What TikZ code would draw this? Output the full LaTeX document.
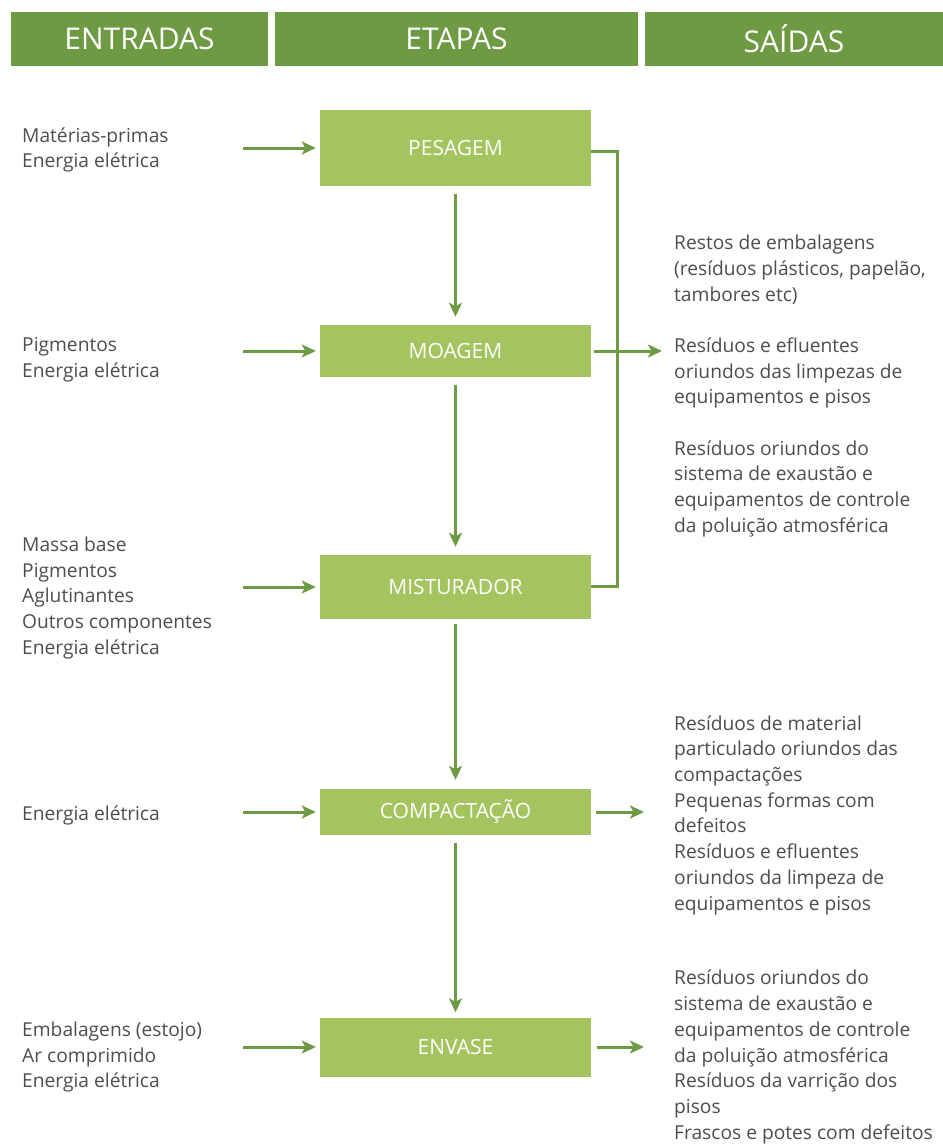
\documentclass[tikz,border=0pt]{standalone}
\usepackage{fontspec}
\setmainfont{Open Sans}
\usetikzlibrary{arrows.meta}
\definecolor{headgreen}{HTML}{6F9A44}
\definecolor{boxgreen}{HTML}{A4C45F}
\definecolor{txtgray}{HTML}{4D4D4D}
\tikzset{
  header/.style={fill=headgreen, text=white, minimum height=54pt, inner sep=0pt,
    font=\fontsize{30pt}{32pt}\selectfont},
  stage/.style={fill=boxgreen, text=white, minimum width=271pt, inner sep=0pt,
    font=\fontsize{21pt}{24pt}\selectfont},
  items/.style={align=left, anchor=west, text=txtgray, inner sep=0pt,
    font=\fontsize{19.2pt}{25.7pt}\selectfont},
  flow/.style={draw=headgreen, line width=3pt, -{Stealth[length=14pt,width=13pt,inset=3.5pt]}},
  bracket/.style={draw=headgreen, line width=3pt}
}
\begin{document}
\begin{tikzpicture}[x=1pt, y=-1pt]
\useasboundingbox (0,0) rectangle (943,1144);
% headers
\node[header, minimum width=257pt] (hin) at (139.5,39) {ENTRADAS};
\node[header, minimum width=363pt] (hstage) at (456.5,39) {ETAPAS};
\node[header, minimum width=298pt] (hout) at (794,39) {SAÍDAS};
% stages
\node[stage, minimum height=76pt] (pes) at (455.5,148) {PESAGEM};
\node[stage, minimum height=52pt] (moa) at (455.5,351) {MOAGEM};
\node[stage, minimum height=64pt] (mis) at (455.5,587) {MISTURADOR};
\node[stage, minimum height=46pt] (com) at (455.5,812) {COMPACTAÇÃO};
\node[stage, minimum height=59pt] (env) at (455.5,1047) {ENVASE};
% inputs
\node[items] (inpes) at (22,150) {Matérias-primas\\Energia elétrica};
\node[items] (inmoa) at (22,360) {Pigmentos\\Energia elétrica};
\node[items] (inmis) at (22,598) {Massa base\\Pigmentos\\Aglutinantes\\Outros componentes\\Energia elétrica};
\node[items] (incom) at (22,815) {Energia elétrica};
\node[items] (inenv) at (22,1057) {Embalagens (estojo)\\Ar comprimido\\Energia elétrica};
\foreach \s in {pes,moa,mis,com,env}
  \coordinate (a\s) at (243,0 |- \s.west);
\foreach \s in {pes,moa,mis,com,env}
  \draw[flow] (a\s) -- ([xshift=-4pt]\s.west);
% flow between stages
\draw[flow] ([yshift=-8pt]pes.south) -- ([yshift=8pt]moa.north);
\draw[flow] ([yshift=-8pt]moa.south) -- ([yshift=8pt]mis.north);
\draw[flow] ([yshift=-5pt]mis.south) -- ([yshift=9pt]com.north);
\draw[flow] ([yshift=-8pt]com.south) -- ([yshift=5pt]env.north);
% outputs
\node[items] (outmoa) at (674,386) {Restos de embalagens\\(resíduos plásticos, papelão,\\tambores etc)\\[25.7pt]Resíduos e efluentes\\oriundos das limpezas de\\equipamentos e pisos\\[25.7pt]Resíduos oriundos do\\sistema de exaustão e\\equipamentos de controle\\da poluição atmosférica};
\node[items] (outcom) at (674,815) {Resíduos de material\\particulado oriundos das\\compactações\\Pequenas formas com\\defeitos\\Resíduos e efluentes\\oriundos da limpeza de\\equipamentos e pisos};
\node[items] (outenv) at (674,1057) {Resíduos oriundos do\\sistema de exaustão e\\equipamentos de controle\\da poluição atmosférica\\Resíduos da varrição dos\\pisos\\Frascos e potes com defeitos};
\coordinate (bend1) at (617,151);
\coordinate (bend2) at (617,586);
\draw[bracket] (pes.east |- bend1) -- (bend1) -- (bend2) -- (mis.east |- bend2);
\coordinate (omoa) at (662,0 |- moa.east);
\coordinate (ocom) at (644,0 |- com.east);
\coordinate (oenv) at (644,0 |- env.east);
\draw[flow] ([xshift=3pt]moa.east) -- (omoa);
\draw[flow] ([xshift=5pt]com.east) -- (ocom);
\draw[flow] ([xshift=6pt]env.east) -- (oenv);
\end{tikzpicture}
\end{document}
